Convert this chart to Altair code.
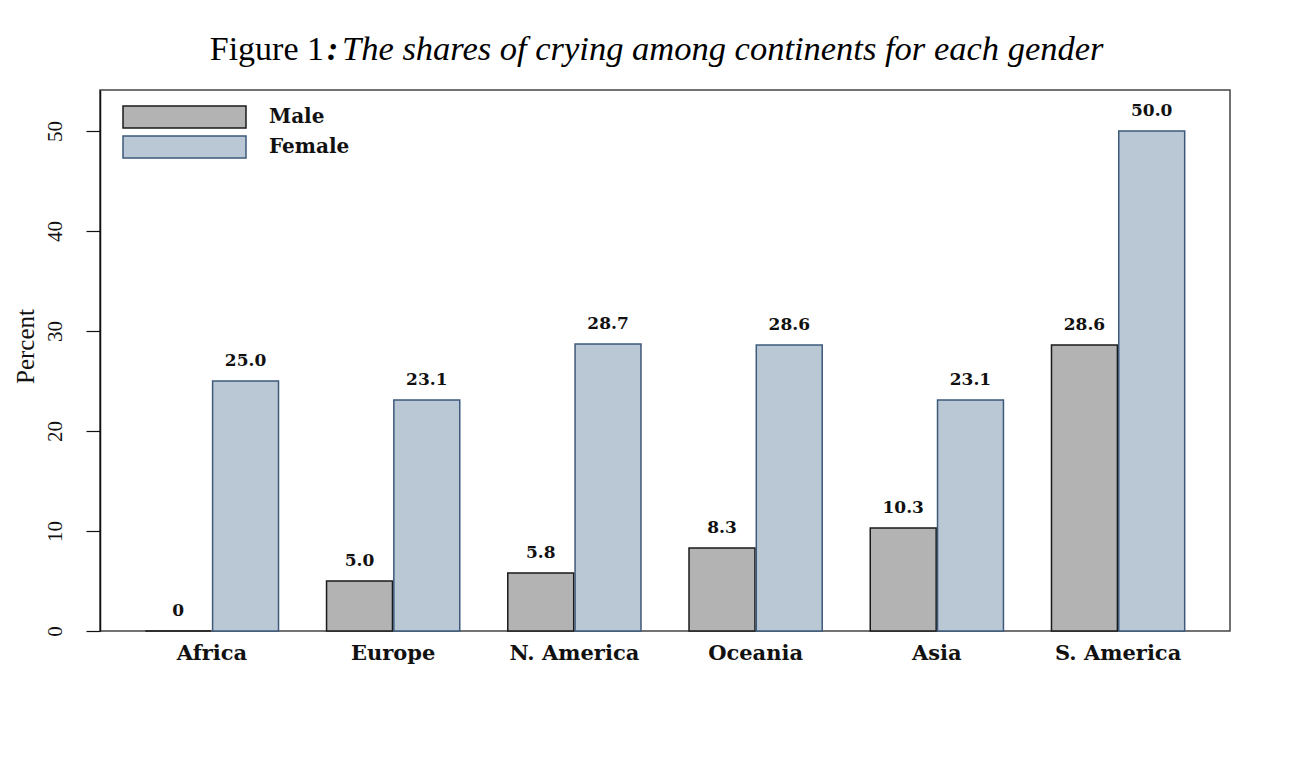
import altair as alt
import pandas as pd

continents = ["Africa", "Europe", "N. America", "Oceania", "Asia", "S. America"]
male = [0, 5.0, 5.8, 8.3, 10.3, 28.6]
female = [25.0, 23.1, 28.7, 28.6, 23.1, 50.0]
genders = ["Male", "Female"]
yticks = [0, 10, 20, 30, 40, 50]

rows = []
for c, m, f in zip(continents, male, female):
    for g, v in zip(genders, [m, f]):
        rows.append({"continent": c, "gender": g, "value": v,
                     "label": "0" if v == 0 else f"{v:.1f}"})
df = pd.DataFrame(rows)

fills = ["#b3b3b3", "#bac8d5"]
strokes = ["#1a1a1a", "#3d5a7a"]

W, H = 1130, 541

# legend symbol: 123 x 22 px rectangle; layout size uses sqrt(symbolSize)=22
leg = alt.Legend(title=None, orient="none", legendX=72.5, legendY=15, padding=0,
                 symbolType="M-5.59,-1H5.59V1H-5.59Z", symbolSize=484,
                 symbolStrokeWidth=1.5, labelFont="DejaVu Serif",
                 labelFontWeight="bold", labelFontSize=20, labelColor="#111",
                 labelOffset=72.5, rowPadding=2)

x = alt.X("continent:N", sort=continents,
          scale=alt.Scale(paddingInner=0.265, paddingOuter=0.25),
          axis=alt.Axis(title=None, domain=False, ticks=False, labelAngle=0,
                        labelFont="DejaVu Serif", labelFontWeight="bold",
                        labelFontSize=21, labelColor="#111", labelPadding=11))
xo = alt.XOffset("gender:N", sort=genders, scale=alt.Scale(paddingInner=0.02))
y = alt.Y("value:Q", scale=alt.Scale(domain=[0, 54.1], nice=False, zero=True),
          axis=alt.Axis(values=yticks, grid=False, tickSize=14, tickColor="#111",
                        domainColor="#111", domainWidth=1.5, tickWidth=1.2,
                        labelAngle=270, labelAlign="center", labelBaseline="alphabetic",
                        labelFont="Liberation Serif", labelFontSize=21,
                        labelColor="#111", labelPadding=25,
                        title="Percent", titleFont="Liberation Serif",
                        titleFontSize=25, titleFontWeight="normal", titleAngle=270,
                        titleAlign="center", titleBaseline="alphabetic",
                        titleX=-67, titleY=256, titleColor="#111"))

base = alt.Chart(df)
bars = base.mark_bar(strokeWidth=1.5).encode(
    x=x, xOffset=xo, y=y,
    fill=alt.Fill("gender:N", sort=genders,
                  scale=alt.Scale(domain=genders, range=fills), legend=leg),
    stroke=alt.Stroke("gender:N", sort=genders,
                      scale=alt.Scale(domain=genders, range=strokes), legend=leg),
)
labels = base.mark_text(dy=-11, baseline="bottom", font="DejaVu Serif",
                        fontWeight="bold", fontSize=17, color="#111").encode(
    x=x, xOffset=xo, y=y, text="label:N")

t1 = alt.Chart(pd.DataFrame({"t": ["Figure 1"]})).mark_text(
    align="right", baseline="alphabetic", font="Liberation Serif", fontSize=34,
    color="black").encode(x=alt.value(224), y=alt.value(-30), text="t:N")
t2 = alt.Chart(pd.DataFrame({"t": [":"]})).mark_text(
    align="left", baseline="alphabetic", font="Liberation Serif", fontSize=34,
    fontStyle="italic", fontWeight="bold", color="black").encode(
    x=alt.value(227), y=alt.value(-30), text="t:N")
t3 = alt.Chart(pd.DataFrame({"t": ["The shares of crying among continents for each gender"]})).mark_text(
    align="left", baseline="alphabetic", font="Liberation Serif", fontSize=34.5,
    fontStyle="italic", color="black").encode(
    x=alt.value(242), y=alt.value(-30), text="t:N")

chart = alt.layer(bars, labels, t1, t2, t3).properties(
    width=W, height=H,
    background="white",
    autosize=alt.AutoSizeParams(type="none"),
    padding={"left": 92, "top": 82, "right": 50, "bottom": 130},
).configure_view(stroke="#444", strokeWidth=1.5)

chart.save("out.html", embed_options={"renderer": "svg", "actions": False})
